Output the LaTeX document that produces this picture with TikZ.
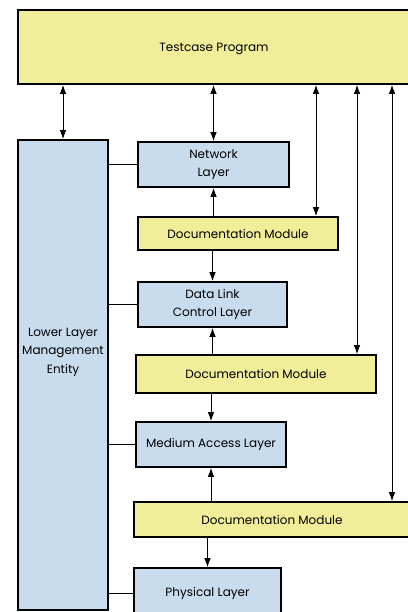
\documentclass[tikz,border=0pt]{standalone}
\usepackage{fontspec}
\setmainfont{Poppins}
\usetikzlibrary{arrows.meta,positioning}
\definecolor{softBlue}{RGB}{200,220,238}
\definecolor{softYellow}{RGB}{240,238,152}

\begin{document}
\begin{tikzpicture}[
  x=1pt, y=-1pt,
  font=\fontsize{12}{18.5}\selectfont,
  block/.style={draw, line width=1.6pt, align=center, inner sep=0pt},
  layer/.style={block, fill=softBlue, minimum height=45pt},
  docmod/.style={block, fill=softYellow},
  arrow/.style={-{Latex[length=9pt, width=6.5pt]}, line width=1pt},
  biarrow/.style={{Latex[length=9pt, width=6.5pt]}-{Latex[length=9pt, width=6.5pt]}, line width=1pt},
  link/.style={line width=1pt}
]
  \useasboundingbox (0,0) rectangle (407,612);

  % program and management entity
  \node[docmod, minimum width=392pt, minimum height=74pt, text height=12pt] (prog) at (214,47) {Testcase Program};
  \node[block, fill=softBlue, minimum width=90pt, minimum height=470pt] (llme) at (63,375) {};
  \node[align=center, inner sep=0pt] (llmeText) at (63,352) {Lower Layer\\Management\\Entity};

  % layers and documentation modules
  \node[layer, minimum width=151pt] (net) at (213.5,164.5) {Network\\Layer};
  \node[docmod, minimum width=200pt, minimum height=33pt] (doc1) at (238,233.5) {Documentation Module};
  \node[layer, minimum width=149pt] (dlc) at (212.5,304.5) {Data Link\\Control Layer};
  \node[docmod, minimum width=240pt, minimum height=38pt] (doc2) at (256,374) {Documentation Module};
  \node[layer, minimum width=150pt] (mac) at (211,444.5) {Medium Access Layer};
  \node[docmod, minimum width=276pt, minimum height=35pt] (doc3) at (272,519.5) {Documentation Module};
  \node[layer, minimum width=147pt, minimum height=50pt] (phys) at (207.5,593) {Physical Layer};

  % lanes for the long arrows
  \coordinate (laneA) at (316,0);
  \coordinate (laneB) at (357,0);
  \coordinate (laneC) at (392,0);

  \draw[biarrow] (prog.south -| llme.north) -- (llme.north);
  \draw[biarrow] (prog.south -| net.north) -- (net.north);
  \draw[biarrow] (prog.south -| laneA) -- (doc1.north -| laneA);
  \draw[biarrow] (prog.south -| laneB) -- (doc2.north -| laneB);
  \draw[biarrow] (prog.south -| laneC) -- (doc3.north -| laneC);

  \draw[arrow] (doc1.north -| net.south) -- (net.south);
  \draw[arrow] (doc1.south -| dlc.north) -- (dlc.north);
  \draw[arrow] (doc2.north -| dlc.south) -- (dlc.south);
  \draw[arrow] (doc2.south -| mac.north) -- (mac.north);
  \draw[arrow] (doc3.north -| mac.south) -- (mac.south);
  \draw[arrow] (doc3.south -| phys.north) -- (phys.north);

  \draw[link] (llme.east |- net.west) -- (net.west);
  \draw[link] (llme.east |- dlc.west) -- (dlc.west);
  \draw[link] (llme.east |- mac.west) -- (mac.west);
  \draw[link] (llme.east |- phys.west) -- (phys.west);
\end{tikzpicture}
\end{document}
